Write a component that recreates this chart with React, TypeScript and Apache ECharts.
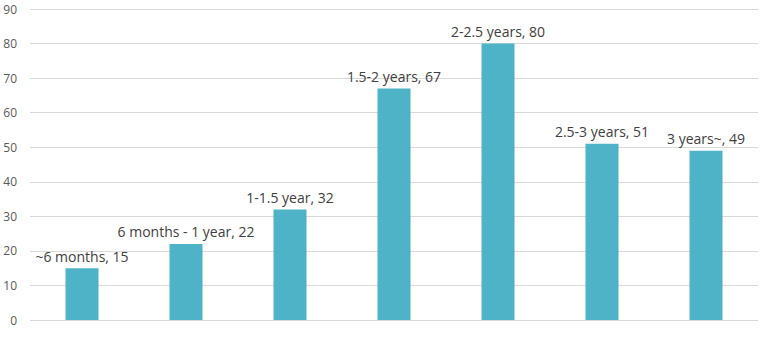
import React, { useEffect, useRef } from "react";
import * as echarts from "echarts";

const categories = ["~6 months", "6 months - 1 year", "1-1.5 year", "1.5-2 years", "2-2.5 years", "2.5-3 years", "3 years~"];
const values = [15, 22, 32, 67, 80, 51, 49];
const yTicks = [0, 10, 20, 30, 40, 50, 60, 70, 80, 90];

export default function App() {
  const ref = useRef<HTMLDivElement>(null);
  useEffect(() => {
    if (!ref.current) return;
    const chart = echarts.init(ref.current, undefined, { renderer: "svg" });
    chart.setOption({
      animation: false,
      grid: { left: 30, right: 12, top: 9, bottom: 19 },
      xAxis: {
        type: "category",
        data: categories,
        axisLine: { show: false },
        axisTick: { show: false },
        axisLabel: { show: false },
      },
      yAxis: {
        type: "value",
        min: yTicks[0],
        max: yTicks[yTicks.length - 1],
        interval: 10,
        axisLine: { show: false },
        axisTick: { show: false },
        axisLabel: { color: "#595959", fontSize: 12, fontFamily: "Open Sans", margin: 13 },
        splitLine: { lineStyle: { color: "#d9d9d9", width: 1 } },
      },
      series: [
        {
          type: "bar",
          data: values,
          barWidth: 33,
          itemStyle: { color: "#4FB3C8" },
          label: {
            show: true,
            position: "top",
            distance: 5,
            formatter: "{b}, {c}",
            color: "#404040",
            fontSize: 14,
            fontFamily: "Open Sans",
          },
        },
      ],
    });
    return () => chart.dispose();
  }, []);
  return <div ref={ref} style={{ position: "absolute", left: 0, top: 0, width: 770, height: 339, background: "#fff" }} />;
}
